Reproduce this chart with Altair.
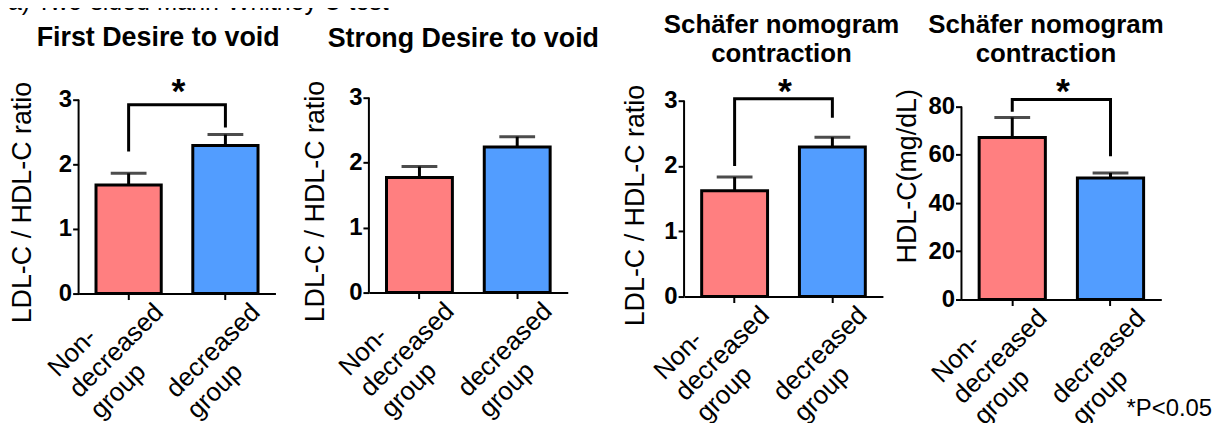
import altair as alt
import pandas as pd

FONT = "Liberation Sans"
RED = "#FF7F80"
BLUE = "#529DFF"

# ---------------- data ----------------
groups = ["Non-decreased group", "decreased group"]
group_labels = ["Non-\ndecreased\ngroup", "decreased\ngroup"]

panel_titles = ["First Desire to void", "Strong Desire to void",
                "Schäfer nomogram\ncontraction", "Schäfer nomogram\ncontraction"]
y_titles = ["LDL-C / HDL-C ratio", "LDL-C / HDL-C ratio",
            "LDL-C / HDL-C ratio", "HDL-C(mg/dL)"]
means = [[1.68, 2.29], [1.77, 2.24], [1.62, 2.29], [67.2, 50.4]]
sems = [[0.18, 0.17], [0.17, 0.16], [0.21, 0.15], [8.3, 2.1]]
y_ticks = [[0, 1, 2, 3], [0, 1, 2, 3], [0, 1, 2, 3], [0, 20, 40, 60, 80]]
# bracket: left leg bottom, top, top, right leg bottom
brackets = [[2.2, 2.92, 2.92, 2.57], None, [2.0, 3.03, 3.03, 2.74], [77.9, 82.9, 82.9, 59.4]]
stars = ["*", None, "*", "*"]
header_text = "a) Two-sided Mann-Whitney U test"
footnote = "*P<0.05"

# ---------------- layout (styles only) ----------------
plot_w = [198, 200, 200, 201]
cell_w = [292, 317, 279, 201]
plot_h = [198, 197, 201, 204]
y_max = [3.046, 3.015, 3.061, 84.1]
title_x = [80, 95, 98, 85]
title_y = [-51, -50, -64, -64]
title_size = [27, 27, 26, 26]
ytitle_x = [-48, -46, -41, -46]
ytitle_y = [106, 105, 109, 79.5]
label_dy = [10, 40]   # first-line offset for 3-line and 2-line labels


def panel(i):
    W, H = plot_w[i], plot_h[i]
    df = pd.DataFrame({"group": groups, "label": group_labels,
                       "mean": means[i], "sem": sems[i]})
    df["top"] = df["mean"] + df["sem"]

    x_enc = alt.X("group:N", sort=groups,
                  scale=alt.Scale(domain=groups, range=[0, W],
                                  paddingInner=0.326, paddingOuter=0.18),
                  axis=alt.Axis(labels=False, title="", domain=True,
                                domainColor="black", domainWidth=2,
                                ticks=True, tickColor="black", tickWidth=2,
                                tickSize=6, grid=False))
    y_enc = alt.Y("mean:Q",
                  scale=alt.Scale(domain=[0, y_max[i]], nice=False, zero=True),
                  axis=alt.Axis(values=y_ticks[i], format="d", domain=False, grid=False,
                                ticks=True, tickColor="black", tickWidth=2,
                                tickSize=6, labelFont=FONT, labelFontSize=24,
                                labelFontWeight="bold", labelColor="black",
                                labelPadding=1,
                                title=y_titles[i], titleFont=FONT,
                                titleFontSize=27, titleFontWeight="normal",
                                titleColor="black", titleAngle=270,
                                titleX=ytitle_x[i], titleY=ytitle_y[i],
                                titleBaseline="alphabetic", titleAlign="center"))
    base = alt.Chart(df)
    bars = base.mark_bar(stroke="black", strokeWidth=3).encode(
        x=x_enc, y=y_enc,
        color=alt.Color("group:N", scale=alt.Scale(domain=groups, range=[RED, BLUE]),
                        legend=None))
    err = base.mark_rule(color="black", strokeWidth=3).encode(
        x=alt.X("group:N", sort=groups), y="mean:Q", y2="top:Q")
    caps = base.mark_tick(color="black", size=36, thickness=3).encode(
        x=alt.X("group:N", sort=groups), y="top:Q")
    ydom = alt.Chart(pd.DataFrame({"y0": [y_ticks[i][0]], "y1": [y_ticks[i][-1]]})).mark_rule(
        color="black", strokeWidth=2).encode(x=alt.value(0), y="y0:Q", y2="y1:Q")
    layers = [bars, err, caps, ydom]
    for k in range(len(groups)):
        xl = base.transform_filter(alt.datum.group == groups[k]).mark_text(
            font=FONT, fontSize=26, color="black", angle=315,
            align="left", baseline="alphabetic", lineBreak="\n",
            lineHeight=30, dx=-110, dy=label_dy[k]).encode(
            x=alt.X("group:N", sort=groups), y=alt.value(H), text="label:N")
        layers.append(xl)
    title = alt.Chart(pd.DataFrame({"t": [panel_titles[i]]})).mark_text(
        font=FONT, fontSize=title_size[i], fontWeight="bold", color="black",
        align="center", baseline="alphabetic", lineBreak="\n", lineHeight=29).encode(
        x=alt.value(title_x[i]), y=alt.value(title_y[i]), text="t:N")
    layers.append(title)

    if brackets[i] is not None:
        bdf = pd.DataFrame({"group": [groups[0], groups[0], groups[1], groups[1]],
                            "val": brackets[i], "ord": [0, 1, 2, 3]})
        br = alt.Chart(bdf).mark_line(color="black", strokeWidth=3,
                                      strokeCap="butt", strokeJoin="miter").encode(
            x=alt.X("group:N", sort=groups), y="val:Q", order="ord:Q")
        layers.append(br)
    if stars[i] is not None:
        st = alt.Chart(pd.DataFrame({"t": [stars[i]]})).mark_text(
            font=FONT, fontSize=36, fontWeight="bold", color="black",
            align="center", baseline="alphabetic").encode(
            x=alt.value(W / 2 + 1.5), y=alt.value(6), text="t:N")
        layers.append(st)
    if i == 0:
        hd = alt.Chart(pd.DataFrame({"t": [header_text]})).mark_text(
            font=FONT, fontSize=25, color="black", align="left",
            baseline="alphabetic").encode(
            x=alt.value(-71), y=alt.value(-87), text="t:N")
        layers.append(hd)
    if i == 3:
        fn = alt.Chart(pd.DataFrame({"t": [footnote]})).mark_text(
            font=FONT, fontSize=24, color="black", align="left",
            baseline="alphabetic").encode(
            x=alt.value(166), y=alt.value(321), text="t:N")
        layers.append(fn)

    return alt.layer(*layers).properties(width=cell_w[i], height=H)


chart = alt.hconcat(*[panel(i) for i in range(4)], spacing=0, bounds="flush").resolve_scale(
    x="independent", y="independent"
).properties(
    padding={"left": 0, "top": -19, "right": 0, "bottom": 0},
    background="white",
).configure_view(strokeWidth=0)

chart.save("out.html", embed_options={"renderer": "svg", "actions": False})
